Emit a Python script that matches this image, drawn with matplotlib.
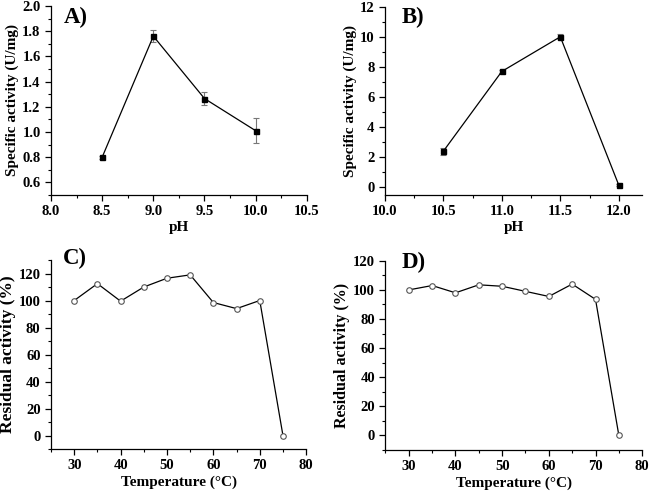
import matplotlib

matplotlib.use("Agg")
import matplotlib.pyplot as plt  # noqa: E402
from matplotlib.ticker import FormatStrFormatter, MultipleLocator  # noqa: E402

# Panel A: pH optimum (8.5 - 10.0)
PH_A = [8.5, 9.0, 9.5, 10.0]
ACT_A = [0.80, 1.76, 1.265, 1.01]
ERR_A = [0.012, 0.05, 0.055, 0.10]

# Panel B: pH optimum (10.5 - 12.0)
PH_B = [10.5, 11.0, 11.5, 12.0]
ACT_B = [2.4, 7.7, 10.0, 0.15]
ERR_B = [0.25, 0.1, 0.18, 0.05]

# Panels C and D: thermal stability
TEMP = [30, 35, 40, 45, 50, 55, 60, 65, 70, 75]
RES_C = [100, 112.5, 99.5, 110, 116.5, 119, 98.5, 94, 100, 0]
RES_D = [100, 103, 98, 103.5, 102.5, 99, 95.5, 104, 93.5, 0]

plt.rcParams["font.family"] = ["Liberation Serif", "DejaVu Serif"]
plt.rcParams["font.weight"] = "bold"

fig = plt.figure(figsize=(6.5, 4.93), dpi=100)
axA = fig.add_axes([0.0785, 0.6045, 0.3935, 0.3835])
axB = fig.add_axes([0.592, 0.6045, 0.396, 0.382])
axC = fig.add_axes([0.0785, 0.0892, 0.3925, 0.3834])
axD = fig.add_axes([0.593, 0.0872, 0.395, 0.3838])


def style(ax, label, lx, ly):
    for s in ("top", "right"):
        ax.spines[s].set_visible(False)
    for s in ("left", "bottom"):
        ax.spines[s].set_linewidth(0.9)
    ax.tick_params(which="major", direction="out", length=4, width=0.9,
                   labelsize=10.5)
    ax.tick_params(which="minor", direction="out", length=2.5, width=0.8)
    for t in ax.get_xticklabels() + ax.get_yticklabels():
        t.set_fontweight("bold")
    ax.text(lx, ly, label, transform=ax.transAxes, fontsize=16.5,
            fontweight="bold", va="center", ha="left")


# A
axA.errorbar(PH_A, ACT_A, yerr=ERR_A, color="black", lw=0.9, marker="s",
             ms=3.6, ecolor="#777777", elinewidth=0.8, capsize=2.5, capthick=0.8)
axA.set_xlim(8.0, 10.5)
axA.set_ylim(0.5, 2.0)
axA.xaxis.set_major_locator(MultipleLocator(0.5))
axA.xaxis.set_minor_locator(MultipleLocator(0.25))
axA.set_yticks([0.6, 0.8, 1.0, 1.2, 1.4, 1.6, 1.8, 2.0])
axA.yaxis.set_minor_locator(MultipleLocator(0.1))
axA.xaxis.set_major_formatter(FormatStrFormatter("%.1f"))
axA.yaxis.set_major_formatter(FormatStrFormatter("%.1f"))
axA.set_xlabel("pH", fontsize=11, fontweight="bold", labelpad=2)
axA.set_ylabel("Specific activity (U/mg)", fontsize=11, fontweight="bold",
               labelpad=2)
style(axA, "A)", 0.05, 0.94)

# B
axB.errorbar(PH_B, ACT_B, yerr=ERR_B, color="black", lw=0.9, marker="s",
             ms=3.6, ecolor="#777777", elinewidth=0.8, capsize=2.5, capthick=0.8)
axB.set_xlim(10.0, 12.2)
axB.set_ylim(-0.5, 12)
axB.xaxis.set_major_locator(MultipleLocator(0.5))
axB.xaxis.set_minor_locator(MultipleLocator(0.25))
axB.yaxis.set_major_locator(MultipleLocator(2))
axB.yaxis.set_minor_locator(MultipleLocator(1))
axB.xaxis.set_major_formatter(FormatStrFormatter("%.1f"))
axB.set_xlabel("pH", fontsize=11, fontweight="bold", labelpad=2)
axB.set_ylabel("Specific activity (U/mg)", fontsize=11, fontweight="bold",
               labelpad=2)
style(axB, "B)", 0.066, 0.944)

# C and D
panels = (
    (axC, RES_C, 130, "C)", 12.5, 0.047, 1.01),
    (axD, RES_D, 120, "D)", 11.5, 0.064, 0.99),
)
for ax, vals, top, lab, ysize, lx, ly in panels:
    ax.plot(TEMP, vals, color="black", lw=0.9, marker="o", ms=4,
            mfc="white", mec="#555555", mew=0.8)
    ax.set_xlim(25, 80)
    ax.set_ylim(-10, top)
    ax.xaxis.set_major_locator(MultipleLocator(10))
    ax.xaxis.set_minor_locator(MultipleLocator(5))
    ax.yaxis.set_major_locator(MultipleLocator(20))
    ax.yaxis.set_minor_locator(MultipleLocator(10))
    ax.set_xlabel("Temperature (°C)", fontsize=11, fontweight="bold",
                  labelpad=2)
    ax.set_ylabel("Residual activity (%)", fontsize=ysize, fontweight="bold",
                  labelpad=2)
    style(ax, lab, lx, ly)

fig.savefig("out.png", dpi=100)
